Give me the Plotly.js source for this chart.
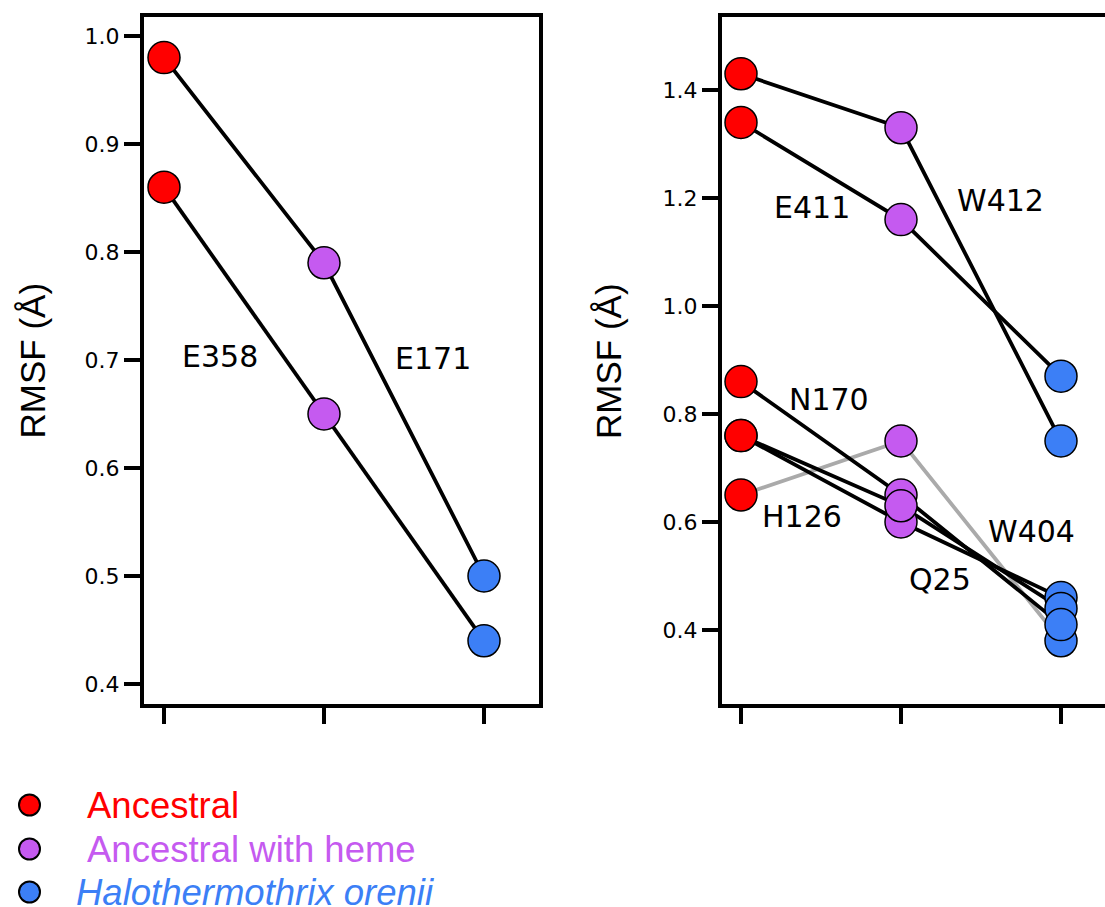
<!DOCTYPE html>
<html>
<head>
<meta charset="utf-8">
<script src="https://cdn.plot.ly/plotly-3.0.1.min.js"></script>
<style>
  html, body { margin: 0; padding: 0; background: #ffffff; }
  #chart { width: 1105px; height: 907px; }
</style>
</head>
<body>
<div id="chart"></div>
<script>
// Protein states along the x axis
const stages = ['Ancestral', 'Ancestral with heme', 'Halothermothrix orenii'];
const stageX = [0, 1, 2];
const stageColors = ['#ff0000', '#c55af0', '#3c7ff6'];

// RMSF (Å) per residue: [Ancestral, Ancestral with heme, H. orenii]
// left panel
const E171 = [0.98, 0.79, 0.50];
const E358 = [0.86, 0.65, 0.44];
// right panel
const W412 = [1.43, 1.33, 0.75];
const E411 = [1.34, 1.16, 0.87];
const N170 = [0.86, 0.65, 0.41];
const W404 = [0.76, 0.63, 0.44];
const Q25  = [0.76, 0.60, 0.46];
const H126 = [0.65, 0.75, 0.38];

const leftResidues  = { E171, E358 };
const rightResidues = { H126, W412, E411, N170, Q25, W404 };

// stacking order of the circles in each column of the right panel (last on top)
const rightMarkerOrder = [
  ['H126', 'W412', 'E411', 'N170', 'Q25', 'W404'],
  ['H126', 'W412', 'E411', 'N170', 'Q25', 'W404'],
  ['H126', 'W412', 'E411', 'Q25', 'W404', 'N170']
];

const W = 1105, H = 907;
const px = v => v / W;
const py = v => 1 - v / H;

const traces = [];

function lineTrace(name, ys, xa, ya, color) {
  return {
    type: 'scatter', mode: 'lines', name: name, showlegend: false,
    x: stageX, y: ys, xaxis: xa, yaxis: ya,
    line: { color: color, width: 3.8 }, hoverinfo: 'skip'
  };
}

function markerTrace(stageIdx, ys, xa, ya) {
  return {
    type: 'scatter', mode: 'markers', name: stages[stageIdx], showlegend: false,
    x: ys.map(() => stageX[stageIdx]), y: ys, xaxis: xa, yaxis: ya,
    marker: { size: 32, color: stageColors[stageIdx], line: { color: '#000000', width: 1.5 } },
    hoverinfo: 'skip'
  };
}

// left panel
Object.keys(leftResidues).forEach(k => traces.push(lineTrace(k, leftResidues[k], 'x', 'y', '#000000')));
stageX.forEach((s, i) => {
  traces.push(markerTrace(i, Object.keys(leftResidues).map(k => leftResidues[k][i]), 'x', 'y'));
});

// right panel: H126 drawn in grey, underneath the others
Object.keys(rightResidues).forEach(k => {
  traces.push(lineTrace(k, rightResidues[k], 'x2', 'y2', k === 'H126' ? '#aaaaaa' : '#000000'));
});
stageX.forEach((s, i) => {
  traces.push(markerTrace(i, rightMarkerOrder[i].map(k => rightResidues[k][i]), 'x2', 'y2'));
});

// residue labels, in data coordinates of each panel
const labelFont = { family: 'DejaVu Sans', size: 30, color: '#000000' };
const residueLabels = [
  ['E358', 0.35, 0.703, 'x', 'y'],
  ['E171', 1.68, 0.701, 'x', 'y'],
  ['E411', 0.441, 1.1815, 'x2', 'y2'],
  ['W412', 1.622, 1.196, 'x2', 'y2'],
  ['N170', 0.548, 0.8267, 'x2', 'y2'],
  ['H126', 0.384, 0.611, 'x2', 'y2'],
  ['W404', 1.8125, 0.5833, 'x2', 'y2'],
  ['Q25', 1.246, 0.4944, 'x2', 'y2']
];
const annotations = residueLabels.map(l => ({
  text: l[0], x: l[1], y: l[2], xref: l[3], yref: l[4],
  xanchor: 'center', yanchor: 'middle', showarrow: false, font: labelFont
}));

// axis titles
const titleFont = { family: 'Liberation Sans', size: 35, color: '#000000' };
[31.5, 608].forEach(xp => {
  annotations.push({
    text: 'RMSF (Å)', textangle: -90, xref: 'paper', yref: 'paper',
    x: px(xp), y: py(361), xanchor: 'center', yanchor: 'middle',
    showarrow: false, font: titleFont
  });
});

// key
const keyY = [805, 849, 892];
const keyTextX = [85, 85, 74];
const shapes = [];
stages.forEach((s, i) => {
  shapes.push({
    type: 'circle', xref: 'paper', yref: 'paper',
    xsizemode: 'pixel', ysizemode: 'pixel',
    xanchor: px(29.5), yanchor: py(keyY[i]),
    x0: -10.5, x1: 10.5, y0: -10.5, y1: 10.5,
    fillcolor: stageColors[i], line: { color: '#000000', width: 2 }
  });
  annotations.push({
    text: i === 2 ? '<i>' + s + '</i>' : s,
    xref: 'paper', yref: 'paper', x: px(keyTextX[i]), y: py(keyY[i]),
    xanchor: 'left', yanchor: 'middle', showarrow: false,
    font: { family: 'Liberation Sans', size: 36.5, color: stageColors[i] }
  });
});

const tickFont = { family: 'DejaVu Sans', size: 22, color: '#000000' };
const xBase = {
  tickvals: stageX, showticklabels: false, ticks: 'outside', ticklen: 16, tickwidth: 4,
  tickcolor: '#000000', showline: true, linewidth: 4, linecolor: '#000000',
  mirror: true, showgrid: false, zeroline: false, fixedrange: true
};
const yBase = {
  ticks: 'outside', ticklen: 16, tickwidth: 4, tickcolor: '#000000',
  showline: true, linewidth: 4, linecolor: '#000000', showgrid: false, zeroline: false,
  tickfont: tickFont, tickformat: '.1f', fixedrange: true
};

const layout = {
  width: W, height: H, margin: { l: 0, r: 0, t: 0, b: 0 },
  paper_bgcolor: '#ffffff', plot_bgcolor: '#ffffff', showlegend: false,
  xaxis:  Object.assign({}, xBase, { domain: [px(144), px(539)], range: [-0.125, 2.34375], anchor: 'y' }),
  yaxis:  Object.assign({}, yBase, { domain: [py(704), py(17)], range: [0.38148, 1.0176],
                                     tick0: 0.4, dtick: 0.1, mirror: true, anchor: 'x' }),
  xaxis2: Object.assign({}, xBase, { domain: [px(722), 1], range: [-0.11875, 2.275], anchor: 'y2' }),
  yaxis2: Object.assign({}, yBase, { domain: [py(704), py(17)], range: [0.2630, 1.5352],
                                     tick0: 0.4, dtick: 0.2, mirror: false, anchor: 'x2' }),
  annotations: annotations,
  shapes: shapes
};

Plotly.newPlot('chart', traces, layout, { displayModeBar: false, staticPlot: true });
</script>
</body>
</html>
